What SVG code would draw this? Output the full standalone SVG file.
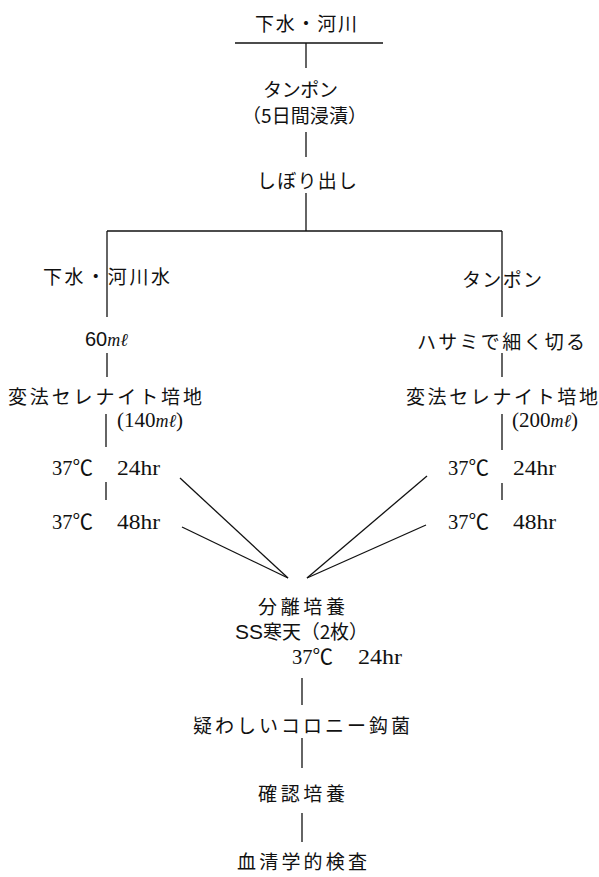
<svg xmlns="http://www.w3.org/2000/svg" width="599" height="877" viewBox="0 0 599 877">
<style>
.j{font-family:"Noto Sans CJK JP","Noto Sans",sans-serif;font-size:19px;fill:#111;}
.s{font-family:"Liberation Sans",sans-serif;font-size:20px;fill:#111;}
.r{font-family:"Liberation Serif","Noto Sans CJK JP",serif;font-size:21px;fill:#111;}
.i{font-family:"Liberation Serif",serif;font-style:italic;font-size:18px;fill:#111;}
line{stroke:#111;stroke-width:1.3;}
</style>
<rect width="599" height="877" fill="#fff"/>
<g id="connectors">
<line x1="235" y1="43" x2="383" y2="43"/>
<line x1="306" y1="43" x2="306" y2="68"/>
<line x1="306" y1="132" x2="306" y2="157"/>
<line x1="306" y1="193" x2="306" y2="231"/>
<line x1="107" y1="231" x2="502" y2="231"/>
<line x1="107" y1="231" x2="107" y2="317"/>
<line x1="107" y1="353" x2="107" y2="377"/>
<line x1="106" y1="414" x2="106" y2="447"/>
<line x1="106" y1="482" x2="106" y2="500"/>
<line x1="502" y1="231" x2="502" y2="317"/>
<line x1="502" y1="353" x2="502" y2="377"/>
<line x1="502" y1="414" x2="502" y2="450"/>
<line x1="502" y1="483" x2="502" y2="500"/>
<line x1="180" y1="478" x2="288" y2="578"/>
<line x1="182" y1="527" x2="288" y2="578"/>
<line x1="427" y1="476" x2="307" y2="578"/>
<line x1="426" y1="525" x2="307" y2="578"/>
<line x1="302" y1="678" x2="302" y2="705"/>
<line x1="302" y1="738" x2="302" y2="768"/>
<line x1="302" y1="813" x2="302" y2="842"/>
</g>
<g id="n-source"><text class="j" x="255" y="31" textLength="102" lengthAdjust="spacing">下水・河川</text></g>
<g id="n-tampon"><text class="j" x="263" y="97" textLength="75" lengthAdjust="spacing">タンポン</text>
<text class="j" x="242" y="123" textLength="125" lengthAdjust="spacing">（5日間浸漬）</text></g>
<g id="n-squeeze"><text class="j" x="257" y="188" textLength="100" lengthAdjust="spacing">しぼり出し</text></g>
<g id="n-water"><text class="j" x="43" y="284" textLength="127" lengthAdjust="spacing">下水・河川水</text></g>
<g id="n-60ml"><text x="85" y="346"><tspan class="s">60</tspan><tspan class="i">mℓ</tspan></text></g>
<g id="n-sel-left"><text class="j" x="8" y="404" textLength="194" lengthAdjust="spacing">変法セレナイト培地</text>
<text x="117" y="427"><tspan class="r">(140</tspan><tspan class="i">mℓ</tspan><tspan class="r">)</tspan></text></g>
<g id="n-l24"><text x="52" y="475"><tspan class="r" textLength="41" lengthAdjust="spacingAndGlyphs">37℃</tspan><tspan class="r" x="117" textLength="43" lengthAdjust="spacingAndGlyphs">24hr</tspan></text></g>
<g id="n-l48"><text x="52" y="529"><tspan class="r" textLength="41" lengthAdjust="spacingAndGlyphs">37℃</tspan><tspan class="r" x="117" textLength="43" lengthAdjust="spacingAndGlyphs">48hr</tspan></text></g>
<g id="n-tampon2"><text class="j" x="462" y="287" textLength="80" lengthAdjust="spacing">タンポン</text></g>
<g id="n-cut"><text class="j" x="417" y="349" textLength="168" lengthAdjust="spacing">ハサミで細く切る</text></g>
<g id="n-sel-right"><text class="j" x="406" y="404" textLength="192" lengthAdjust="spacing">変法セレナイト培地</text>
<text x="512" y="427"><tspan class="r">(200</tspan><tspan class="i">mℓ</tspan><tspan class="r">)</tspan></text></g>
<g id="n-r24"><text x="448" y="475"><tspan class="r" textLength="41" lengthAdjust="spacingAndGlyphs">37℃</tspan><tspan class="r" x="513" textLength="43" lengthAdjust="spacingAndGlyphs">24hr</tspan></text></g>
<g id="n-r48"><text x="448" y="529"><tspan class="r" textLength="41" lengthAdjust="spacingAndGlyphs">37℃</tspan><tspan class="r" x="513" textLength="43" lengthAdjust="spacingAndGlyphs">48hr</tspan></text></g>
<g id="n-isolate"><text class="j" x="258" y="614" textLength="87" lengthAdjust="spacing">分離培養</text>
<text x="235" y="639"><tspan class="s" textLength="28" lengthAdjust="spacingAndGlyphs">SS</tspan><tspan class="j" textLength="105" lengthAdjust="spacing">寒天（2枚）</tspan></text>
<text x="292" y="664"><tspan class="r" textLength="41" lengthAdjust="spacingAndGlyphs">37℃</tspan><tspan class="r" x="358" textLength="44" lengthAdjust="spacingAndGlyphs">24hr</tspan></text></g>
<g id="n-colony"><text class="j" x="193" y="733" textLength="217" lengthAdjust="spacing">疑わしいコロニー鈎菌</text></g>
<g id="n-confirm"><text class="j" x="258" y="801" textLength="87" lengthAdjust="spacing">確認培養</text></g>
<g id="n-serology"><text class="j" x="237" y="869" textLength="130" lengthAdjust="spacing">血清学的検査</text></g>
</svg>
